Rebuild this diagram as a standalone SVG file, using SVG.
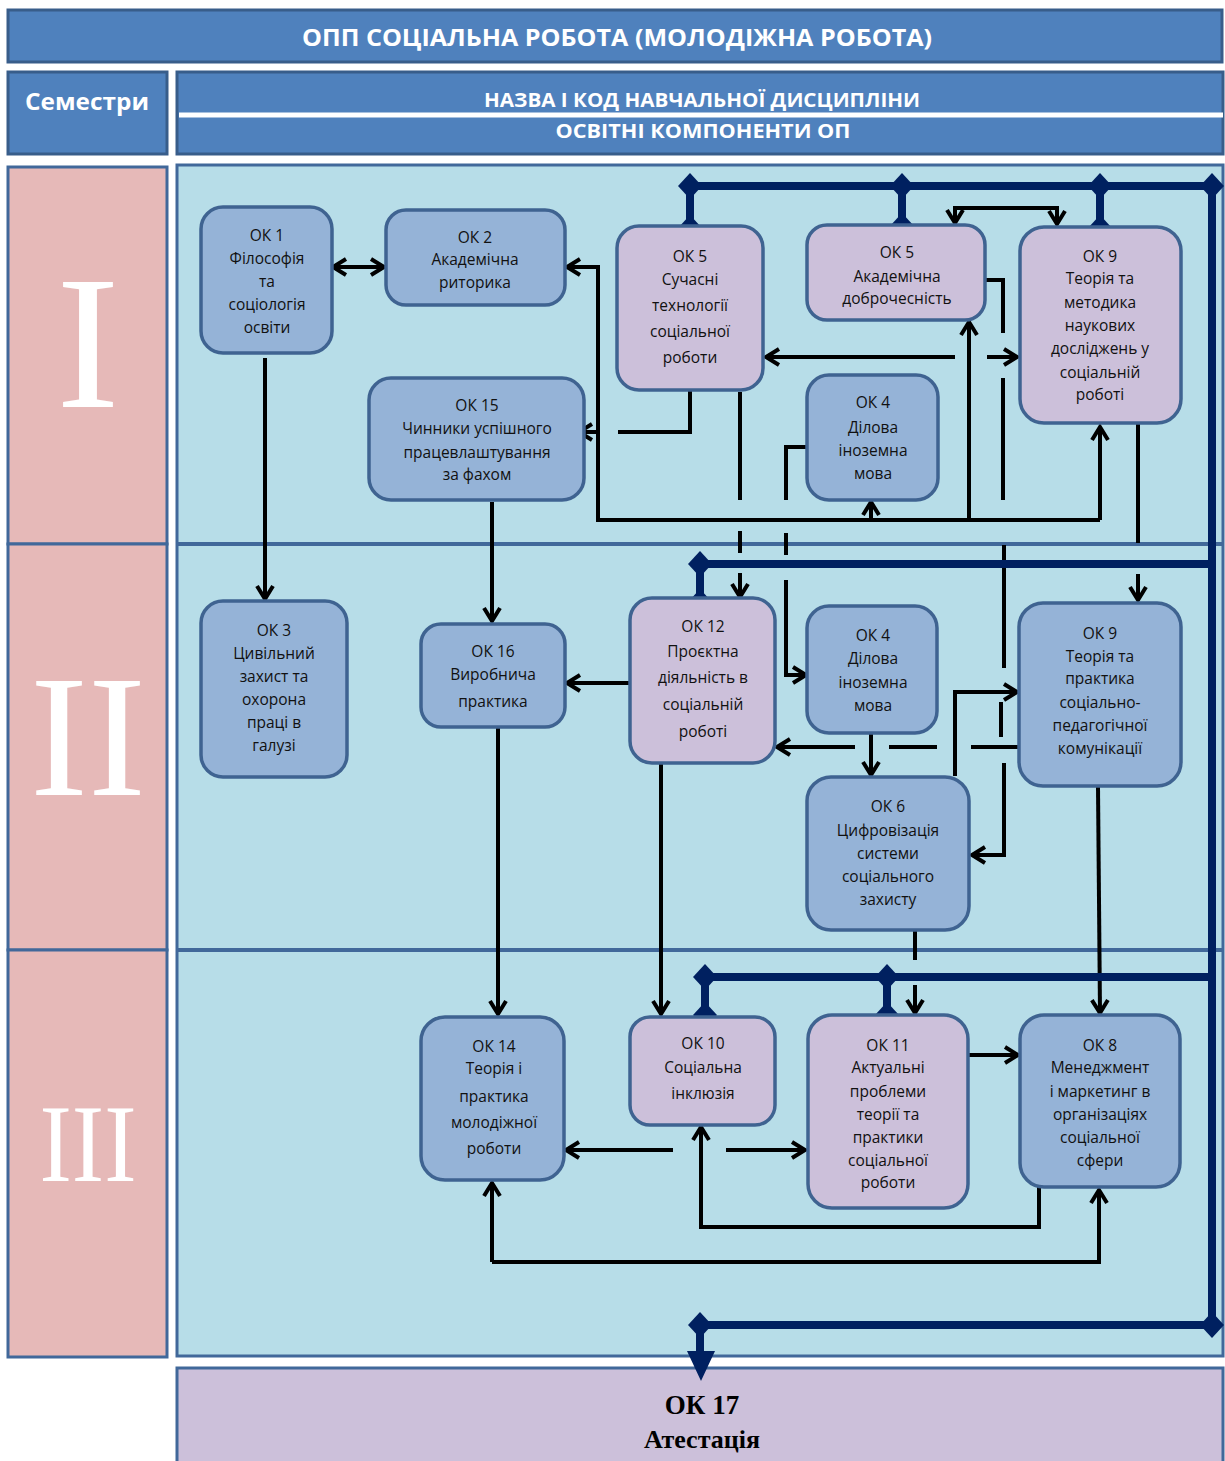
<svg xmlns="http://www.w3.org/2000/svg" width="1225" height="1461" viewBox="0 0 1225 1461">
<style>
.hdr{fill:#4f81bd;stroke:#385d8a;stroke-width:3}
.ht{font-family:"Open Sans","Noto Sans",sans-serif;font-weight:bold;fill:#fff;text-anchor:middle}
.sem{fill:#e6b9b8;stroke:#41689a;stroke-width:3}
.rn{font-family:"Liberation Serif","DejaVu Serif",serif;fill:#fff;text-anchor:middle}
.nb{fill:#95b3d7;stroke:#3f6391;stroke-width:3.5}
.np{fill:#ccc0da;stroke:#3f6391;stroke-width:3.5}
.t{font-family:"Open Sans","Noto Sans",sans-serif;font-size:15.5px;text-anchor:middle;fill:#111}
.c{fill:none;stroke:#000;stroke-width:4}
.bus{fill:none;stroke:#002060;stroke-width:8}
.dv{stroke:#41689a;stroke-width:4}
</style>
<defs>
<marker id="ar" viewBox="0 0 20 20" refX="17" refY="10" markerWidth="20" markerHeight="20" markerUnits="userSpaceOnUse" orient="auto-start-reverse">
<path d="M4,2 L17,10 L4,18" fill="none" stroke="#000" stroke-width="4"/>
</marker>
<path id="dm" d="M0,-13 L12,0 L0,13 L-12,0 Z" fill="#002060"/>
</defs>

<g id="header">
<rect class="hdr" x="8" y="10" width="1214" height="52"/>
<text class="ht" x="617" y="46" font-size="24" textLength="630" lengthAdjust="spacingAndGlyphs">ОПП СОЦІАЛЬНА РОБОТА (МОЛОДІЖНА РОБОТА)</text>
<rect class="hdr" x="8" y="72" width="159" height="82"/>
<text class="ht" x="87" y="110" font-size="23" textLength="124" lengthAdjust="spacingAndGlyphs">Семестри</text>
<rect class="hdr" x="177" y="72" width="1046" height="82"/>
<line x1="179" y1="115" x2="1223" y2="115" stroke="#fff" stroke-width="5"/>
<text class="ht" x="702" y="107" font-size="20" textLength="436" lengthAdjust="spacingAndGlyphs">НАЗВА І КОД НАВЧАЛЬНОЇ ДИСЦИПЛІНИ</text>
<text class="ht" x="703" y="138" font-size="20" textLength="295" lengthAdjust="spacingAndGlyphs">ОСВІТНІ КОМПОНЕНТИ ОП</text>
</g>

<g id="semesters">
<rect class="sem" x="8" y="167" width="159" height="377"/>
<rect class="sem" x="8" y="544" width="159" height="406"/>
<rect class="sem" x="8" y="950" width="159" height="407"/>
<text class="rn" x="88" y="407" font-size="190">I</text>
<text class="rn" x="88" y="795" font-size="174">II</text>
<text class="rn" x="88" y="1181" font-size="110" textLength="97" lengthAdjust="spacingAndGlyphs">III</text>
</g>

<g id="area">
<rect x="177" y="165" width="1046" height="1191" fill="#b7dde8" stroke="#41689a" stroke-width="3"/>
<line class="dv" x1="177" y1="544" x2="1223" y2="544"/>
<line class="dv" x1="177" y1="950" x2="1223" y2="950"/>
</g>

<g id="ok17">
<rect x="177" y="1368" width="1046" height="100" fill="#ccc0da" stroke="#41689a" stroke-width="3"/>
<text x="702" y="1414" font-family="Liberation Serif,DejaVu Serif,serif" font-weight="bold" font-size="27" text-anchor="middle" fill="#000">ОК 17</text>
<text x="702" y="1448" font-family="Liberation Serif,DejaVu Serif,serif" font-weight="bold" font-size="26" text-anchor="middle" fill="#000">Атестація</text>
</g>

<g id="connectors">
<path class="c" d="M333,267 H384" marker-start="url(#ar)" marker-end="url(#ar)"/>
<path class="c" d="M265,358 V599" marker-end="url(#ar)"/>
<path class="c" d="M492,502 V621" marker-end="url(#ar)"/>
<path class="c" d="M1100,520 H598 V267 H567" marker-end="url(#ar)"/>
<path class="c" d="M1100,520 V427" marker-end="url(#ar)"/>
<path class="c" d="M969,520 V322" marker-end="url(#ar)"/>
<path class="c" d="M871,520 V502" marker-end="url(#ar)"/>
<path class="c" d="M690,391 V432 H618"/>
<path class="c" d="M598,432 H579" marker-end="url(#ar)"/>
<path class="c" d="M1006,208 H955 V223" marker-end="url(#ar)"/>
<path class="c" d="M1006,208 H1057 V224" marker-end="url(#ar)"/>
<path class="c" d="M955,357 H766" marker-end="url(#ar)"/>
<path class="c" d="M987,357 H1017" marker-end="url(#ar)"/>
<path class="c" d="M986,280 H1003 V333 M1003,378 V500 M1004,545 V668 M1001,702 V737"/>
<path class="c" d="M1004,763 V855 H972" marker-end="url(#ar)"/>
<path class="c" d="M740,392 V500 M740,531 V553"/>
<path class="c" d="M740,573 V597" marker-end="url(#ar)"/>
<path class="c" d="M807,447 H786 V500 M786,533 V555"/>
<path class="c" d="M786,580 V675 H806" marker-end="url(#ar)"/>
<path class="c" d="M1138,424 V543"/>
<path class="c" d="M1138,574 V600" marker-end="url(#ar)"/>
<path class="c" d="M630,683 H567" marker-end="url(#ar)"/>
<path class="c" d="M661,764 V1014" marker-end="url(#ar)"/>
<path class="c" d="M871,733 V775" marker-end="url(#ar)"/>
<path class="c" d="M1018,747 H971 M937,747 H889"/>
<path class="c" d="M855,747 H777" marker-end="url(#ar)"/>
<path class="c" d="M955,776 V692 H1017" marker-end="url(#ar)"/>
<path class="c" d="M1098,787 L1100,1013" marker-end="url(#ar)"/>
<path class="c" d="M915,931 V960"/>
<path class="c" d="M915,985 V1013" marker-end="url(#ar)"/>
<path class="c" d="M498,727 V1014" marker-end="url(#ar)"/>
<path class="c" d="M969,1055 H1018" marker-end="url(#ar)"/>
<path class="c" d="M673,1150 H566" marker-end="url(#ar)"/>
<path class="c" d="M726,1150 H805" marker-end="url(#ar)"/>
<path class="c" d="M1039,1187 V1227 H701 V1127" marker-end="url(#ar)"/>
<path class="c" d="M492,1262 V1183" marker-end="url(#ar)"/>
<path class="c" d="M492,1262 H1099 V1190" marker-end="url(#ar)"/>

<path class="bus" d="M690,186 H1212 V1325 H700 V1354"/>
<path class="bus" d="M690,186 V227 M902,186 V226 M1100,186 V228"/>
<path class="bus" d="M700,564 H1212 M700,564 V601"/>
<path class="bus" d="M705,977 H1212 M705,977 V1015 M887,977 V1015"/>
<polygon points="687,1351 715,1351 701,1381" fill="#002060"/>
<use href="#dm" x="690" y="186"/>
<use href="#dm" x="902" y="186"/>
<use href="#dm" x="1100" y="186"/>
<use href="#dm" x="1212" y="186"/>
<use href="#dm" x="690" y="228"/>
<use href="#dm" x="902" y="226"/>
<use href="#dm" x="1100" y="228"/>
<use href="#dm" x="700" y="564"/>
<use href="#dm" x="700" y="602"/>
<use href="#dm" x="705" y="977"/>
<use href="#dm" x="705" y="1015"/>
<use href="#dm" x="887" y="977"/>
<use href="#dm" x="887" y="1015"/>
<use href="#dm" x="700" y="1325"/>
<use href="#dm" x="1212" y="1325"/>
</g>

<g id="ok1"><rect class="nb" x="201" y="207" width="131" height="146" rx="22"/>
<text class="t" x="267"><tspan x="267" y="241">ОК 1</tspan><tspan x="267" y="264">Філософія</tspan><tspan x="267" y="287">та</tspan><tspan x="267" y="310">соціологія</tspan><tspan x="267" y="333">освіти</tspan></text></g>
<g id="ok2"><rect class="nb" x="386" y="210" width="179" height="95" rx="20"/>
<text class="t"><tspan x="475" y="243">ОК 2</tspan><tspan x="475" y="265">Академічна</tspan><tspan x="475" y="288">риторика</tspan></text></g>
<g id="ok5a"><rect class="np" x="617" y="226" width="146" height="164" rx="22"/>
<text class="t"><tspan x="690" y="262">ОК 5</tspan><tspan x="690" y="285">Сучасні</tspan><tspan x="690" y="311">технології</tspan><tspan x="690" y="337">соціальної</tspan><tspan x="690" y="363">роботи</tspan></text></g>
<g id="ok5b"><rect class="np" x="807" y="225" width="178" height="95" rx="20"/>
<text class="t"><tspan x="897" y="258">ОК 5</tspan><tspan x="897" y="282">Академічна</tspan><tspan x="897" y="304">доброчесність</tspan></text></g>
<g id="ok9a"><rect class="np" x="1020" y="227" width="161" height="196" rx="24"/>
<text class="t"><tspan x="1100" y="262">ОК 9</tspan><tspan x="1100" y="284">Теорія та</tspan><tspan x="1100" y="308">методика</tspan><tspan x="1100" y="331">наукових</tspan><tspan x="1100" y="354">досліджень у</tspan><tspan x="1100" y="378">соціальній</tspan><tspan x="1100" y="400">роботі</tspan></text></g>
<g id="ok15"><rect class="nb" x="369" y="378" width="215" height="122" rx="22"/>
<text class="t"><tspan x="477" y="411">ОК 15</tspan><tspan x="477" y="434">Чинники успішного</tspan><tspan x="477" y="458">працевлаштування</tspan><tspan x="477" y="480">за фахом</tspan></text></g>
<g id="ok4a"><rect class="nb" x="807" y="375" width="131" height="125" rx="22"/>
<text class="t"><tspan x="873" y="408">ОК 4</tspan><tspan x="873" y="433">Ділова</tspan><tspan x="873" y="456">іноземна</tspan><tspan x="873" y="479">мова</tspan></text></g>
<g id="ok3"><rect class="nb" x="201" y="601" width="146" height="176" rx="22"/>
<text class="t"><tspan x="274" y="636">ОК 3</tspan><tspan x="274" y="659">Цивільний</tspan><tspan x="274" y="682">захист та</tspan><tspan x="274" y="705">охорона</tspan><tspan x="274" y="728">праці в</tspan><tspan x="274" y="751">галузі</tspan></text></g>
<g id="ok16"><rect class="nb" x="421" y="624" width="144" height="103" rx="20"/>
<text class="t"><tspan x="493" y="657">ОК 16</tspan><tspan x="493" y="680">Виробнича</tspan><tspan x="493" y="707">практика</tspan></text></g>
<g id="ok12"><rect class="np" x="630" y="598" width="145" height="165" rx="22"/>
<text class="t"><tspan x="703" y="632">ОК 12</tspan><tspan x="703" y="657">Проєктна</tspan><tspan x="703" y="683">діяльність в</tspan><tspan x="703" y="710">соціальній</tspan><tspan x="703" y="737">роботі</tspan></text></g>
<g id="ok4b"><rect class="nb" x="807" y="606" width="130" height="127" rx="22"/>
<text class="t"><tspan x="873" y="641">ОК 4</tspan><tspan x="873" y="664">Ділова</tspan><tspan x="873" y="688">іноземна</tspan><tspan x="873" y="711">мова</tspan></text></g>
<g id="ok9b"><rect class="nb" x="1019" y="603" width="162" height="183" rx="24"/>
<text class="t"><tspan x="1100" y="639">ОК 9</tspan><tspan x="1100" y="662">Теорія та</tspan><tspan x="1100" y="684">практика</tspan><tspan x="1100" y="708">соціально-</tspan><tspan x="1100" y="731">педагогічної</tspan><tspan x="1100" y="754">комунікації</tspan></text></g>
<g id="ok6"><rect class="nb" x="807" y="777" width="162" height="153" rx="24"/>
<text class="t"><tspan x="888" y="812">ОК 6</tspan><tspan x="888" y="836">Цифровізація</tspan><tspan x="888" y="859">системи</tspan><tspan x="888" y="882">соціального</tspan><tspan x="888" y="905">захисту</tspan></text></g>
<g id="ok14"><rect class="nb" x="421" y="1017" width="143" height="163" rx="24"/>
<text class="t"><tspan x="494" y="1052">ОК 14</tspan><tspan x="494" y="1074">Теорія і</tspan><tspan x="494" y="1102">практика</tspan><tspan x="494" y="1128">молодіжної</tspan><tspan x="494" y="1154">роботи</tspan></text></g>
<g id="ok10"><rect class="np" x="630" y="1017" width="145" height="108" rx="20"/>
<text class="t"><tspan x="703" y="1049">ОК 10</tspan><tspan x="703" y="1073">Соціальна</tspan><tspan x="703" y="1099">інклюзія</tspan></text></g>
<g id="ok11"><rect class="np" x="808" y="1015" width="160" height="193" rx="24"/>
<text class="t"><tspan x="888" y="1051">ОК 11</tspan><tspan x="888" y="1073">Актуальні</tspan><tspan x="888" y="1097">проблеми</tspan><tspan x="888" y="1120">теорії та</tspan><tspan x="888" y="1143">практики</tspan><tspan x="888" y="1166">соціальної</tspan><tspan x="888" y="1188">роботи</tspan></text></g>
<g id="ok8"><rect class="nb" x="1020" y="1015" width="160" height="172" rx="24"/>
<text class="t"><tspan x="1100" y="1051">ОК 8</tspan><tspan x="1100" y="1073">Менеджмент</tspan><tspan x="1100" y="1097">і маркетинг в</tspan><tspan x="1100" y="1120">організаціях</tspan><tspan x="1100" y="1143">соціальної</tspan><tspan x="1100" y="1166">сфери</tspan></text></g>
</svg>
